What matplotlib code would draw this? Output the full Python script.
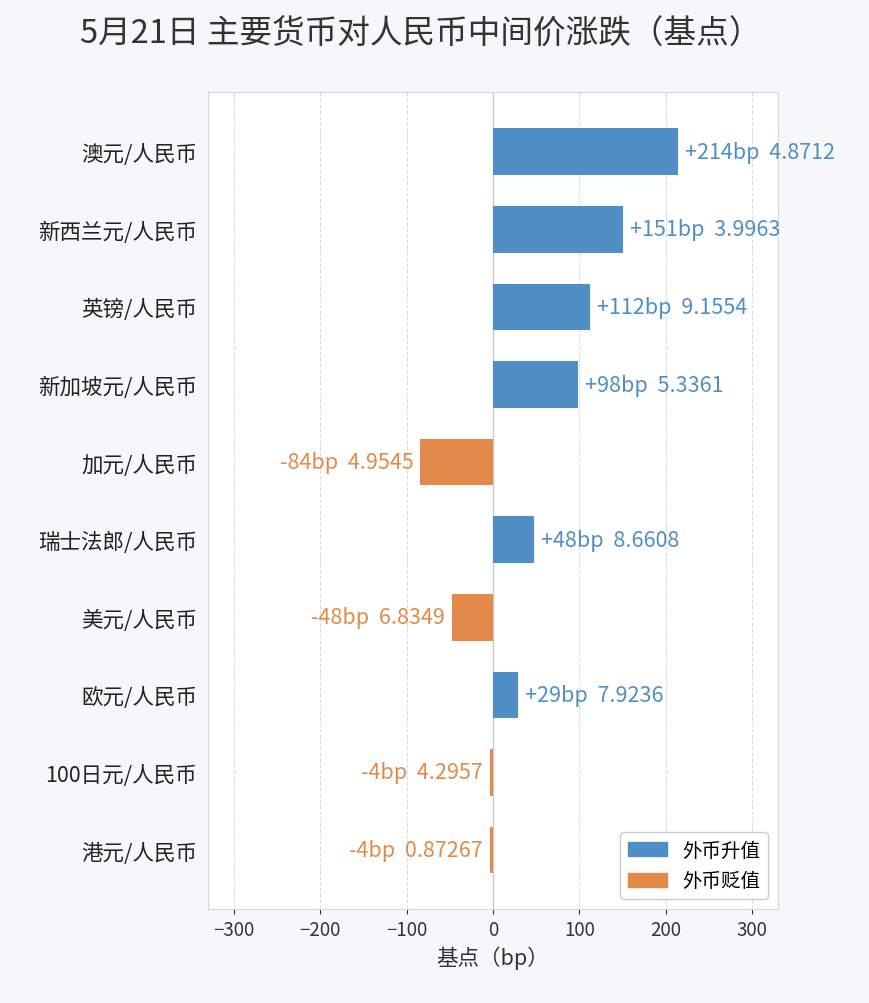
import matplotlib
matplotlib.use("Agg")
import matplotlib.pyplot as plt
from matplotlib.patches import Patch

plt.rcParams['font.family'] = ['Noto Sans CJK SC', 'DejaVu Sans']

pairs = ["澳元/人民币", "新西兰元/人民币", "英镑/人民币", "新加坡元/人民币", "加元/人民币",
         "瑞士法郎/人民币", "美元/人民币", "欧元/人民币", "100日元/人民币", "港元/人民币"]
changes = [214, 151, 112, 98, -84, 48, -48, 29, -4, -4]
rates = ["4.8712", "3.9963", "9.1554", "5.3361", "4.9545", "8.6608", "6.8349", "7.9236", "4.2957", "0.87267"]

blue = "#4f8fc6"
orange = "#e3894a"
bg = "#f6f7f9"

fig = plt.figure(figsize=(8.7, 10.04), dpi=100, facecolor=bg)
ax = fig.add_axes([208/870, 1-910/1004, 570/870, (910-93)/1004])
ax.set_facecolor("white")
y = list(range(len(pairs)))
cols = [blue if c > 0 else orange for c in changes]
ax.barh(y, changes, height=0.6, color=cols, zorder=3)
for yi, c, r, col in zip(y, changes, rates, cols):
    txt = f"{c:+d}bp  {r}"
    if c > 0:
        ax.text(c + 8, yi, txt, va="center", ha="left", color=col, fontsize=15.5)
    else:
        ax.text(c - 8, yi, txt, va="center", ha="right", color=col, fontsize=15.5)
ax.set_yticks(y)
ax.set_yticklabels(pairs, fontsize=15.5)
ax.set_ylim(9.76, -0.77)
ax.set_xlim(-330, 330)
ax.set_xticks([-300, -200, -100, 0, 100, 200, 300])
ax.tick_params(axis='x', labelsize=13.5, colors="#333333")
ax.tick_params(axis='y', length=0, pad=8, colors="#222222")
ax.grid(axis='x', linestyle='--', color="#dddddd", zorder=0)
ax.axvline(0, color="#cccccc", lw=1, zorder=2)
for s in ax.spines.values():
    s.set_color("#d8d8d8")
ax.set_xlabel("基点（bp）", fontsize=15.5, color="#333333", labelpad=4)
ax.legend(handles=[Patch(color=blue, label="外币升值"), Patch(color=orange, label="外币贬值")],
          loc="lower right", fontsize=14, framealpha=1)
fig.text(0.483, 0.965, "5月21日 主要货币对人民币中间价涨跌（基点）", ha="center", va="center",
         fontsize=23.5, color="#333333")
fig.savefig("out.png", dpi=100, facecolor=bg)
